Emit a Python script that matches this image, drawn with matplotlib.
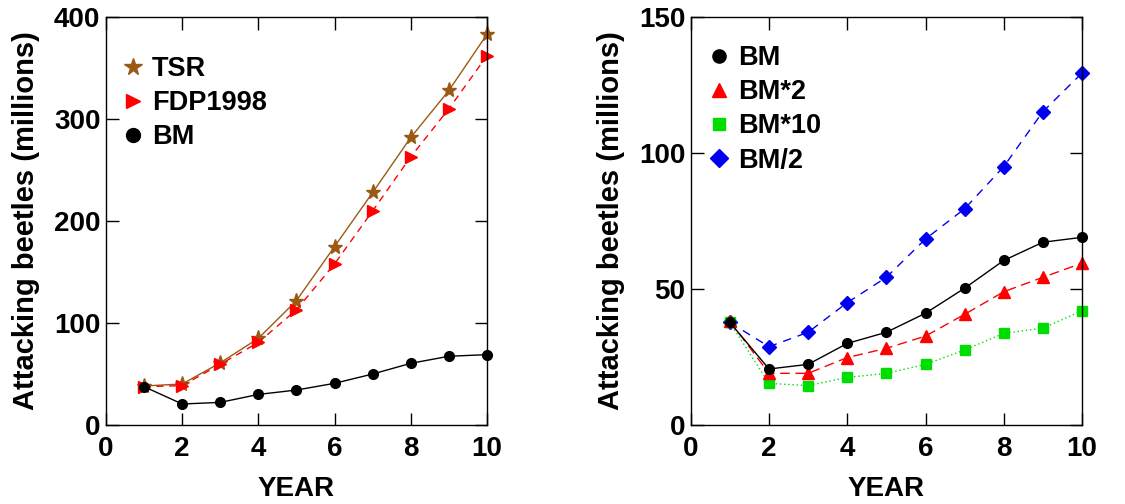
import matplotlib
matplotlib.use("Agg")
from matplotlib import pyplot as plt
from matplotlib.lines import Line2D

plt.rcParams['font.family'] = ['Liberation Sans', 'DejaVu Sans']
plt.rcParams['font.weight'] = 'bold'

years = [1, 2, 3, 4, 5, 6, 7, 8, 9, 10]

# left panel
tsr = [38.3, 40.2, 61, 85, 122, 175, 228, 282, 328, 383]
fdp1998 = [37.6, 38.6, 59.5, 81, 113, 158, 210, 263, 310, 362]
bm = [37.6, 20.6, 22.2, 30, 34.3, 40.9, 50, 60.5, 67.4, 69]

# right panel
bm_r = [37.7, 20.6, 22.3, 30, 34.1, 41.1, 50.3, 60.5, 67.2, 69]
bm_x2 = [38.2, 19.0, 19.0, 24.8, 28.2, 32.7, 40.7, 49, 54.3, 59.5]
bm_x10 = [37.7, 15.3, 14.5, 17.5, 19.0, 22.3, 27.6, 33.7, 35.6, 42]
bm_half = [37.7, 28.8, 34.1, 45, 54.3, 68.4, 79.5, 95, 115.2, 129.4]

xticks = [0, 2, 4, 6, 8, 10]
yticks_left = [0, 100, 200, 300, 400]
yticks_right = [0, 50, 100, 150]

brown = '#9b5a14'
red = '#ff0000'
green = '#00dd00'
blue = '#0000ee'


def style_axes(ax, yticks):
    ax.set_xlim(0, 10)
    ax.set_ylim(yticks[0], yticks[-1])
    ax.set_xticks(xticks)
    ax.set_yticks(yticks)
    ax.tick_params(direction='in', length=9, width=1, top=True, right=True,
                   labelsize=20)
    ax.tick_params(axis='x', pad=8)
    ax.tick_params(axis='y', pad=4)
    for lab in ax.get_xticklabels() + ax.get_yticklabels():
        lab.set_fontweight('bold')
    for s in ax.spines.values():
        s.set_linewidth(1)
    ax.set_xlabel('YEAR', fontsize=20, fontweight='bold', labelpad=10)
    ax.set_ylabel('Attacking beetles (millions)', fontsize=21,
                  fontweight='bold', labelpad=10)


def add_legend(ax, specs, anchor):
    handles = [Line2D([], [], ls='none', marker=m, color=c, markersize=ms,
                      label=lab) for lab, m, c, ms in specs]
    ax.legend(handles=handles, loc='upper left', frameon=False,
              bbox_to_anchor=anchor, borderaxespad=0, borderpad=0,
              handlelength=0.8, handletextpad=0.3, labelspacing=0.3,
              prop={'size': 19.5, 'weight': 'bold'})


fig = plt.figure(figsize=(11.25, 5.04), dpi=100)
ax1 = fig.add_axes([0.0942, 0.1567, 0.3387, 0.8096])
ax2 = fig.add_axes([0.614, 0.1567, 0.3478, 0.8096])

ax1.plot(years, tsr, color=brown, lw=1, marker='*', ms=11, clip_on=False)
ax1.plot(years, fdp1998, color=red, lw=1, ls=(0, (5, 4)), marker='>',
         ms=8, clip_on=False)
ax1.plot(years, bm, color='black', lw=1, marker='o', ms=7, clip_on=False)
style_axes(ax1, yticks_left)
add_legend(ax1, [('TSR', '*', brown, 13), ('FDP1998', '>', red, 10),
                 ('BM', 'o', 'black', 10)], (0.042, 0.904))

ax2.plot(years, bm_half, color=blue, lw=1, ls=(0, (6, 5)), marker='D',
         ms=7, clip_on=False)
ax2.plot(years, bm_x10, color=green, lw=1, ls=(0, (1, 2)), marker='s',
         ms=7.5, clip_on=False)
ax2.plot(years, bm_x2, color=red, lw=1, ls=(0, (7, 4)), marker='^',
         ms=8, clip_on=False)
ax2.plot(years, bm_r, color='black', lw=1, marker='o', ms=7, clip_on=False)
style_axes(ax2, yticks_right)
add_legend(ax2, [('BM', 'o', 'black', 9.5), ('BM*2', '^', red, 10),
                 ('BM*10', 's', green, 9), ('BM/2', 'D', blue, 9)],
           (0.044, 0.931))

fig.savefig('out.png', dpi=100)
